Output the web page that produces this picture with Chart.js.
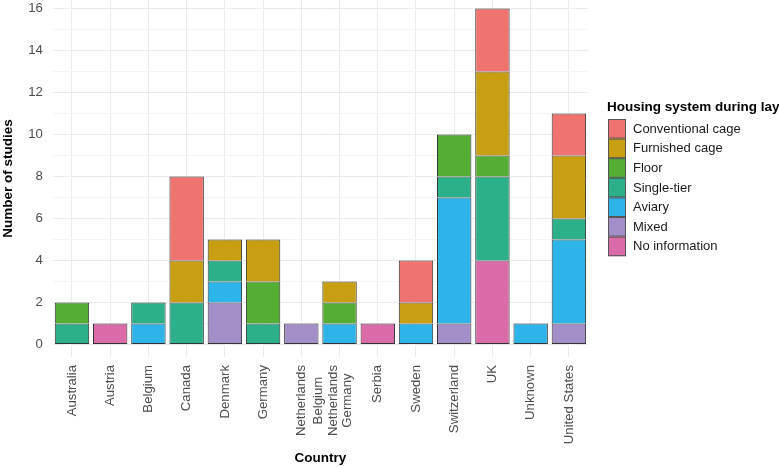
<!DOCTYPE html>
<html>
<head>
<meta charset="utf-8">
<script src="https://cdn.jsdelivr.net/npm/chart.js@4/dist/chart.umd.min.js"></script>
<style>
  html, body { margin: 0; padding: 0; background: #fff; }
  #wrap { width: 779px; height: 467px; }
</style>
</head>
<body>
<div id="wrap"><canvas id="chart" width="779" height="467"></canvas></div>
<script>
// Categories (x axis)
const countries = ['Australia', 'Austria', 'Belgium', 'Canada', 'Denmark', 'Germany', 'Netherlands',
  ['Belgium', 'Netherlands', 'Germany'], 'Serbia', 'Sweden', 'Switzerland', 'UK', 'Unknown', 'United States'];

// Series, bottom of stack first
const noInformation = [null, 1, null, null, null, null, null, null, 1, null, null, 4, null, null];
const mixed         = [null, null, null, null, 2, null, 1, null, null, null, 1, null, null, 1];
const aviary        = [null, null, 1, null, 1, null, null, 1, null, 1, 6, null, 1, 4];
const singleTier    = [1, null, 1, 2, 1, 1, null, null, null, null, 1, 4, null, 1];
const floor         = [1, null, null, null, null, 2, null, 1, null, null, 2, 1, null, null];
const furnishedCage = [null, null, null, 2, 1, 2, null, 1, null, 1, null, 4, null, 3];
const conventional  = [null, null, null, 4, null, null, null, null, null, 2, null, 3, null, 2];

const yTicks = [0, 1, 2, 3, 4, 5, 6, 7, 8, 9, 10, 11, 12, 13, 14, 15, 16];

const FONT = '"Liberation Sans", Arial, sans-serif';
const TICK_SIZE = 13.2;

// bottom bar of each stack keeps its bottom border, the others skip it
function skipBorder(c) {
  const ds = c.chart.data.datasets;
  for (let k = 0; k < c.datasetIndex; k++) {
    if (ds[k].data[c.dataIndex] != null) return 'start';
  }
  return false;
}

function series(label, data, color) {
  return {
    label: label,
    data: data,
    backgroundColor: color,
    borderColor: '#333',
    borderWidth: 1,
    borderSkipped: skipBorder,
    categoryPercentage: 0.9,
    barPercentage: 1.0
  };
}

// multi-line tick labels (rotated) drawn centred on the tick, plus the legend
const extras = {
  id: 'extras',
  afterDraw(chart) {
    const c = chart.ctx;
    const xs = chart.scales.x;
    const area = chart.chartArea;
    c.save();
    c.font = TICK_SIZE + 'px ' + FONT;
    c.fillStyle = '#4D4D4D';
    countries.forEach((lab, i) => {
      if (!Array.isArray(lab)) return;
      const px = xs.getPixelForValue(i);
      const widths = lab.map(t => c.measureText(t).width);
      const maxW = Math.max(...widths);
      const lh = 14.5;
      lab.forEach((t, j) => {
        c.save();
        c.translate(px + (j - 1.45) * lh, area.bottom + 8 + maxW / 2);
        c.rotate(-Math.PI / 2);
        c.textAlign = 'center';
        c.textBaseline = 'middle';
        c.fillText(t, 0, 0);
        c.restore();
      });
    });
    c.restore();

    // legend
    const items = chart.data.datasets.slice().reverse();
    const lx = area.right + 20;
    const ly = 119;
    const rowH = 19.6;
    c.save();
    c.font = 'bold 13.5px ' + FONT;
    c.fillStyle = '#000';
    c.textAlign = 'left';
    c.textBaseline = 'middle';
    c.fillText('Housing system during lay', lx - 1, ly - 12);
    c.font = '13px ' + FONT;
    items.forEach((ds, k) => {
      const y = ly + k * rowH;
      c.fillStyle = ds.backgroundColor;
      c.fillRect(lx, y, 18, rowH);
      c.strokeStyle = '#555';
      c.lineWidth = 1;
      c.strokeRect(lx + 0.5, y + 0.5, 17, rowH - 1);
      c.fillStyle = '#1a1a1a';
      c.fillText(ds.label, lx + 25, y + rowH / 2 + 0.5);
    });
    c.restore();
  }
};

const ctx = document.getElementById('chart').getContext('2d');
new Chart(ctx, {
  type: 'bar',
  data: {
    labels: countries,
    datasets: [
      series('No information', noInformation, '#DA6BA8'),
      series('Mixed', mixed, '#A38FC8'),
      series('Aviary', aviary, '#2DB5E9'),
      series('Single-tier', singleTier, '#2CB089'),
      series('Floor', floor, '#53AE33'),
      series('Furnished cage', furnishedCage, '#C89E12'),
      series('Conventional cage', conventional, '#EF746F')
    ]
  },
  plugins: [extras],
  options: {
    responsive: false,
    animation: false,
    layout: { padding: { left: 0, right: 191, top: 0, bottom: 1 } },
    plugins: {
      tooltip: { enabled: false },
      legend: { display: false }
    },
    scales: {
      x: {
        stacked: true,
        offset: true,
        border: { display: false },
        grid: { offset: false, color: '#EBEBEB', drawTicks: false },
        afterFit: s => { s.paddingLeft = 0; s.paddingRight = 0; s.height = 109; },
        ticks: {
          minRotation: 90,
          maxRotation: 90,
          autoSkip: false,
          padding: 8,
          color: '#4D4D4D',
          font: { family: FONT, size: TICK_SIZE },
          callback: (v, i) => (Array.isArray(countries[i]) ? '' : countries[i])
        },
        title: {
          display: true,
          text: 'Country',
          color: '#000',
          font: { family: FONT, size: 13.5, weight: 'bold' },
          padding: { top: 4, bottom: 0 }
        }
      },
      y: {
        stacked: true,
        min: -0.6,
        max: 16.4,
        border: { display: false },
        afterBuildTicks: scale => { scale.ticks = yTicks.map(v => ({ value: v })); },
        afterFit: s => { s.paddingTop = 0; s.paddingBottom = 0; },
        grid: {
          drawTicks: false,
          color: c => (c.tick && c.tick.value % 2 === 0) ? '#EBEBEB' : '#F4F4F4'
        },
        ticks: {
          padding: 10,
          color: '#4D4D4D',
          font: { family: FONT, size: TICK_SIZE },
          callback: v => (v % 2 === 0 ? v : '')
        },
        title: {
          display: true,
          text: 'Number of studies',
          color: '#000',
          font: { family: FONT, size: 13.5, weight: 'bold' },
          padding: { top: 0, bottom: 2 }
        }
      }
    }
  }
});
</script>
</body>
</html>
